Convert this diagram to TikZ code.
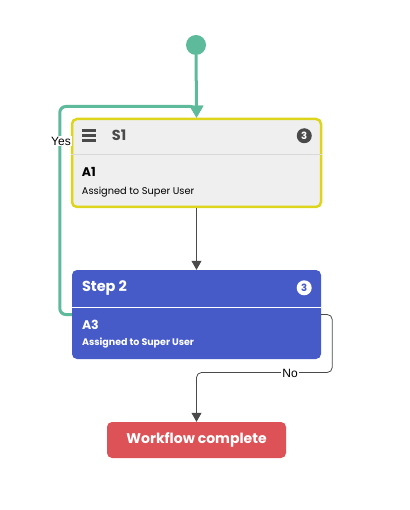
\documentclass[tikz,border=0pt]{standalone}
\usepackage{fontspec}
\setmainfont{Poppins}
\newfontfamily\labelfont{Liberation Sans}
\usetikzlibrary{positioning, calc, arrows.meta}
\definecolor{flowgreen}{HTML}{5DBA9A}
\definecolor{cardyellow}{HTML}{DDD51C}
\definecolor{cardgray}{HTML}{EFEFEF}
\definecolor{cardblue}{HTML}{475BC8}
\definecolor{donered}{HTML}{DD5257}
\definecolor{inkgray}{HTML}{4A4A4A}

\begin{document}
\begin{tikzpicture}[x=1pt, y=-1pt, >=Triangle,
    cardbox/.style={rectangle, rounded corners=5pt, minimum width=249pt, inner sep=0pt},
    cardtext/.style={anchor=west, inner sep=0pt},
    badge/.style={circle, inner sep=0pt, minimum size=15pt, font=\bfseries\fontsize{10}{10}\selectfont},
    flowlabel/.style={fill=white, inner sep=1pt, font=\labelfont\fontsize{12}{12}\selectfont},
    yesline/.style={draw=flowgreen, line width=3pt, -{Triangle[width=13pt,length=12pt]}},
    flowline/.style={draw=inkgray, line width=0.8pt, -{Triangle[width=10pt,length=9pt]}}]
    \useasboundingbox (0,0) rectangle (409,510);

    % Start point
    \node[circle, fill=flowgreen, minimum size=20pt, inner sep=0pt] (start) at (196,45) {};

    % Card S1
    \node[cardbox, draw=cardyellow, line width=2.5pt, fill=cardgray, minimum height=88pt] (s1) at (196.5,163) {};
    \draw[black!15, line width=1pt] ([yshift=-37pt]s1.north west) -- ([yshift=-37pt]s1.north east);
    \foreach \dy in {13,18,23}
        \draw[inkgray, line width=2.6pt] ([xshift=11pt,yshift=-\dy pt]s1.north west) -- ++(14,0);
    \node[cardtext, font=\bfseries\fontsize{14.5}{14.5}\selectfont, text=inkgray] (s1name) at ([xshift=41pt,yshift=-18pt]s1.north west) {S1};
    \node[badge, fill=inkgray, text=white] (s1badge) at ([xshift=-18pt,yshift=-18pt]s1.north east) {3};
    \node[cardtext, font=\bfseries\fontsize{12.5}{12.5}\selectfont] (s1act) at ([xshift=11pt,yshift=-54pt]s1.north west) {A1};
    \node[cardtext, font=\fontsize{9.8}{9.8}\selectfont] (s1user) at ([xshift=11pt,yshift=-74pt]s1.north west) {Assigned to Super User};

    % Card Step 2
    \node[cardbox, fill=cardblue, minimum height=89pt] (s2) at (196.5,314.5) {};
    \draw[white, line width=1pt] ([yshift=-38pt]s2.north west) -- ([yshift=-38pt]s2.north east);
    \node[cardtext, font=\bfseries\fontsize{14.5}{14.5}\selectfont, text=white] (s2name) at ([xshift=10pt,yshift=-18pt]s2.north west) {Step 2};
    \node[badge, fill=white, text=cardblue] (s2badge) at ([xshift=-17pt,yshift=-18pt]s2.north east) {3};
    \node[cardtext, font=\bfseries\fontsize{12.5}{12.5}\selectfont, text=white] (s2act) at ([xshift=10pt,yshift=-55pt]s2.north west) {A3};
    \node[cardtext, font=\bfseries\fontsize{9.5}{9.5}\selectfont, text=white] (s2user) at ([xshift=10pt,yshift=-73pt]s2.north west) {Assigned to Super User};

    % End point
    \node[rectangle, rounded corners=5pt, fill=donered, text=white, minimum width=179pt, minimum height=36pt,
          font=\bfseries\fontsize{14}{14}\selectfont] (done) at (196.5,440) {Workflow complete};

    % Connectors
    \draw[yesline] (start) -- (s1.north);
    \draw[yesline, rounded corners=6pt] (s2.west) -- ++(-12,0) -- ++(0,-208) -| (s1.north);
    \draw[flowline] (s1.south) -- (s2.north);
    \draw[flowline, rounded corners=5pt] (s2.east) -- ++(11,0) -- ++(0,58) -| (done.north);

    % Labels
    \node[flowlabel] (yeslabel) at (61,141) {Yes};
    \node[flowlabel] (nolabel) at (290,373) {No};
\end{tikzpicture}
\end{document}
